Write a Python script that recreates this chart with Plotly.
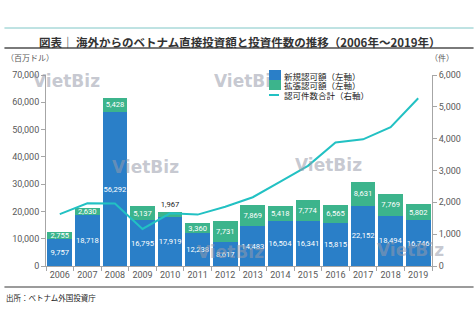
import plotly.graph_objects as go

# Foreign direct investment into Vietnam, 2006-2019
years = ["2006", "2007", "2008", "2009", "2010", "2011", "2012",
         "2013", "2014", "2015", "2016", "2017", "2018", "2019"]
new_capital = [9757, 18718, 56292, 16795, 17919, 12238, 8617,
               14483, 16504, 16341, 15815, 22152, 18494, 16746]
expansion_capital = [2755, 2630, 5428, 5137, 1967, 3360, 7731,
                     7869, 5418, 7774, 6565, 8631, 7769, 5802]
project_count = [1630, 1970, 1965, 1165, 1655, 1615, 1860,
                 2160, 2650, 3145, 3880, 3980, 4360, 5270]

W, H = 474, 333
L, R, T, B = 42, 42, 75, 67
PW, PH = W - L - R, H - T - B

BLUE = "#2a7fc8"
GREEN = "#3cb48c"
TEAL = "#22c1c3"
AXIS = "#a6a6a6"
TICK = "#595959"
NUM_FONT = "Roboto"
JP_FONT = "Noto Sans CJK JP"


def px_x(x):
    return (x - L) / PW


def px_y(y):
    return (H - B - y) / PH


fig = go.Figure()

fig.add_trace(go.Bar(
    x=years, y=new_capital, name="新規認可額（左軸）",
    marker=dict(color=BLUE, line=dict(width=0)),
    text=[f"{v:,}" for v in new_capital],
    textposition="inside", insidetextanchor="middle",
    constraintext="none", textangle=0,
    textfont=dict(family=NUM_FONT, size=7.6, color="white"),
    cliponaxis=False,
))

exp_pos = ["outside" if v < 2500 else "inside" for v in expansion_capital]
exp_col = ["#222222" if v < 2500 else "white" for v in expansion_capital]
fig.add_trace(go.Bar(
    x=years, y=expansion_capital, name="拡張認可額（左軸）",
    marker=dict(color=GREEN, line=dict(width=0)),
    text=[f"{v:,}" for v in expansion_capital],
    textposition=exp_pos, insidetextanchor="middle",
    constraintext="none", textangle=0,
    textfont=dict(family=NUM_FONT, size=7.6, color=exp_col),
    cliponaxis=False,
))

fig.add_trace(go.Scatter(
    x=years, y=project_count, name="認可件数合計（右軸）",
    yaxis="y2", mode="lines",
    line=dict(color=TEAL, width=2),
))

fig.update_layout(
    width=W, height=H,
    margin=dict(l=L, r=R, t=T, b=B, pad=0),
    paper_bgcolor="white", plot_bgcolor="white",
    barmode="stack", bargap=0.1,
    showlegend=False,
    font=dict(family=NUM_FONT, size=9, color=TICK),
    xaxis=dict(
        type="category", showline=True, linecolor=AXIS, linewidth=1,
        ticks="outside", tickson="boundaries", ticklen=4, tickcolor=AXIS,
        tickangle=0,
        tickfont=dict(family=NUM_FONT, size=9, color=TICK),
        showgrid=False, zeroline=False, fixedrange=True,
    ),
    yaxis=dict(
        range=[0, 70000], dtick=10000, tickformat=",",
        showline=True, linecolor=AXIS, linewidth=1,
        ticks="outside", ticklen=4, tickcolor=AXIS,
        tickfont=dict(family=NUM_FONT, size=9, color=TICK),
        showgrid=False, zeroline=False,
    ),
    yaxis2=dict(
        range=[0, 6000], dtick=1000, tickformat=",",
        overlaying="y", side="right",
        showline=True, linecolor=AXIS, linewidth=1,
        ticks="outside", ticklen=4, tickcolor=AXIS,
        tickfont=dict(family=NUM_FONT, size=9, color=TICK),
        showgrid=False, zeroline=False,
    ),
)

shapes = [
    # header rules
    dict(type="line", xref="paper", yref="paper",
         x0=px_x(0), x1=px_x(W), y0=px_y(28), y1=px_y(28),
         line=dict(color="#7fc6c6", width=1)),
    dict(type="line", xref="paper", yref="paper",
         x0=px_x(0), x1=px_x(W), y0=px_y(48), y1=px_y(48),
         line=dict(color="#7a7a7a", width=2)),
    # footer rule
    dict(type="line", xref="paper", yref="paper",
         x0=px_x(0), x1=px_x(W), y0=px_y(287), y1=px_y(287),
         line=dict(color="#7a7a7a", width=1.5)),
]

annotations = [
    dict(text="<b>図表｜ 海外からのベトナム直接投資額と投資件数の推移（2006年～2019年）</b>",
         xref="paper", yref="paper", x=px_x(238), y=px_y(42),
         xanchor="center", yanchor="middle", showarrow=False,
         font=dict(family=JP_FONT, size=11.5, color="#333333")),
    dict(text="（百万ドル）", xref="paper", yref="paper",
         x=px_x(0), y=px_y(58), xanchor="left", yanchor="middle",
         showarrow=False, font=dict(family=JP_FONT, size=8, color=TICK)),
    dict(text="（件）", xref="paper", yref="paper",
         x=px_x(456), y=px_y(58), xanchor="right", yanchor="middle",
         showarrow=False, font=dict(family=JP_FONT, size=8, color=TICK)),
    dict(text="出所：ベトナム外国投資庁", xref="paper", yref="paper",
         x=px_x(0), y=px_y(297), xanchor="left", yanchor="middle",
         showarrow=False, font=dict(family=JP_FONT, size=7.5, color="#222222")),
]

# watermark stamps
for cx, cy in [(63, 81), (246, 81), (143, 167), (327, 165), (228, 252), (410, 250)]:
    annotations.append(dict(
        text="<b>VietBiz</b>", xref="paper", yref="paper",
        x=px_x(cx), y=px_y(cy), xanchor="center", yanchor="middle",
        showarrow=False,
        font=dict(family="DejaVu Sans", size=17, color="rgba(150,155,170,0.55)")))

# legend: white ground, filled key boxes, then labels
annotations.append(dict(
    text=" ", xref="paper", yref="paper", x=px_x(280), y=px_y(85),
    xanchor="left", yanchor="middle", showarrow=False,
    width=92, height=32, borderpad=0, borderwidth=0, bgcolor="white",
    font=dict(size=1)))

legend_keys = [(BLUE, 273, 75.3, 12, 9.5), (GREEN, 273, 84.8, 12, 9.5),
               (TEAL, 272, 94.5, 10, 2)]
for color, cx, cy, w, h in legend_keys:
    annotations.append(dict(
        text=" ", xref="paper", yref="paper", x=px_x(cx), y=px_y(cy),
        xanchor="center", yanchor="middle", showarrow=False,
        width=w, height=h, borderpad=0, borderwidth=0, bgcolor=color,
        font=dict(size=1)))

legend_rows = [("新規認可額（左軸）", 75.5), ("拡張認可額（左軸）", 85),
               ("認可件数合計（右軸）", 94.5)]
for label, yy in legend_rows:
    annotations.append(dict(
        text=label, xref="paper", yref="paper", x=px_x(280), y=px_y(yy),
        xanchor="left", yanchor="middle", showarrow=False,
        font=dict(family=JP_FONT, size=8.5, color="#222222")))

fig.update_layout(shapes=shapes, annotations=annotations)

fig.write_html("out.html")
